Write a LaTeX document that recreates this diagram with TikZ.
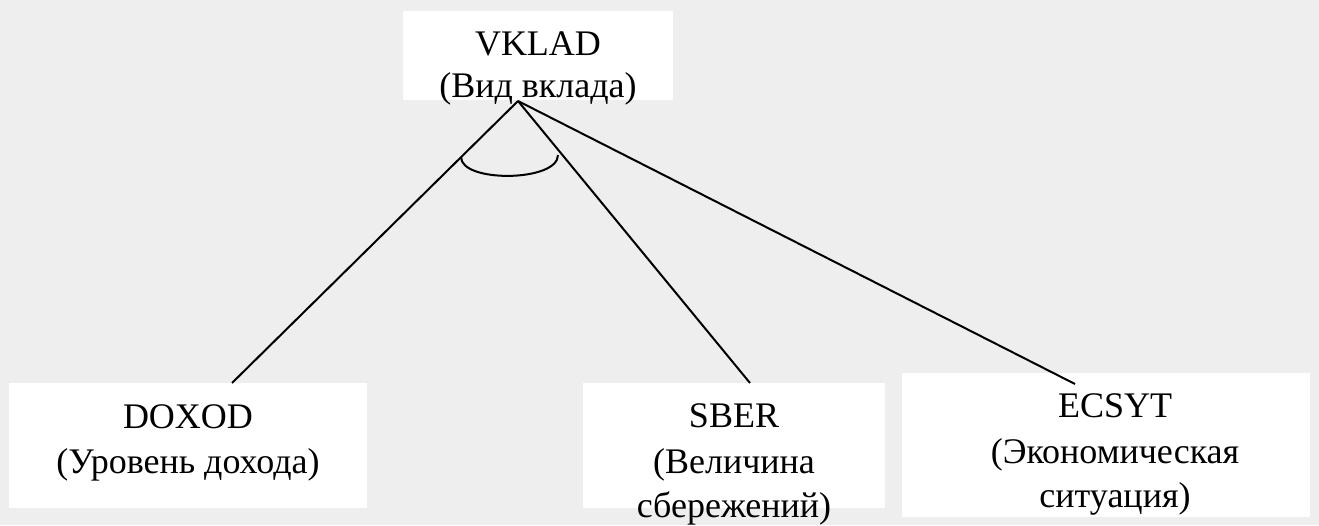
\documentclass[tikz,border=0pt]{standalone}
\usepackage{fontspec}
\setmainfont{Liberation Serif}
\definecolor{bg}{RGB}{238,238,238}
\begin{document}
\begin{tikzpicture}[x=1pt,y=-1pt,
  box/.style={fill=white, draw=none, inner sep=0pt, anchor=north west},
  lbl/.style={anchor=base, inner sep=0pt, font=\fontsize{36}{45}\selectfont},
  link/.style={draw=black, line width=2pt}]
\fill[bg] (0,0) rectangle (1319,525);
\useasboundingbox (0,0) rectangle (1319,525);
% boxes
\node[box, minimum width=270pt, minimum height=89pt] (vklad) at (403,11) {};
\node[box, minimum width=358pt, minimum height=125pt] (doxod) at (9,383) {};
\node[box, minimum width=302pt, minimum height=125pt] (sber) at (583,383) {};
\node[box, minimum width=408pt, minimum height=144pt] (ecsyt) at (902,373) {};
% labels
\node[lbl] (t1a) at (538,55) {VKLAD};
\node[lbl] (t1b) at (538,97) {(Вид вклада)};
\node[lbl] (t2a) at (188,428) {DOXOD};
\node[lbl] (t2b) at (188,473) {(Уровень дохода)};
\node[lbl] (t3a) at (734,427) {SBER};
\node[lbl] (t3b) at (734,473) {(Величина};
\node[lbl] (t3c) at (734,517) {сбережений)};
\node[lbl] (t4a) at (1115,417) {ECSYT};
\node[lbl] (t4b) at (1115,463) {(Экономическая};
\node[lbl] (t4c) at (1115,507) {ситуация)};
% connectors
\coordinate (apex) at (518,101);
\coordinate (e1) at (232,383);
\coordinate (e2) at (750,383);
\coordinate (e3) at (1075,384);
\draw[link] (apex) -- (e1);
\draw[link] (apex) -- (e2);
\draw[link] (apex) -- (e3);
% conjunction arc
\coordinate (arcL) at (461,157);
\coordinate (arcR) at (558,155);
\draw[link] (arcL) .. controls (461,183) and (558,182) .. (arcR);
\end{tikzpicture}
\end{document}
